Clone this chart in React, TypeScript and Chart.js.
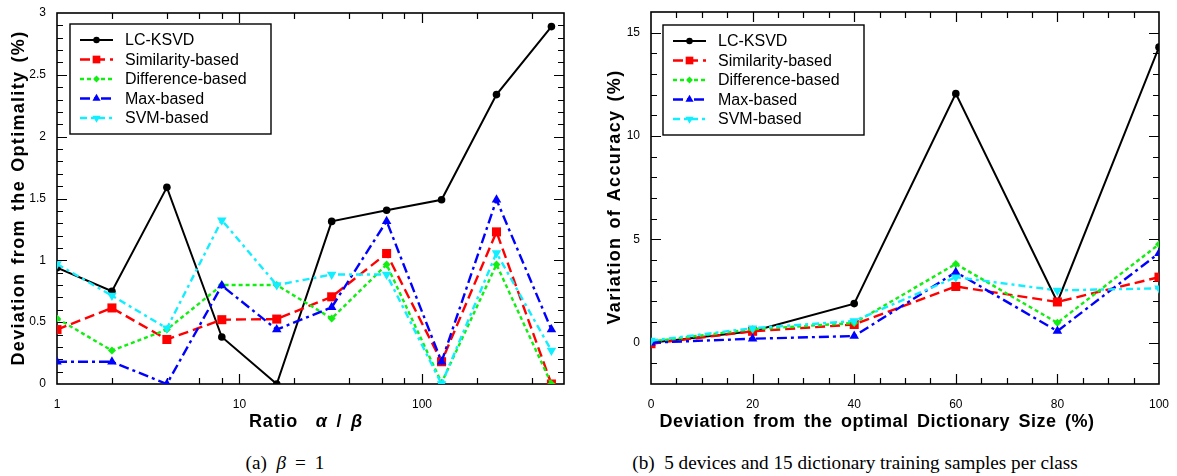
import React, { useEffect, useRef } from "react";
import { Chart, registerables } from "chart.js";

Chart.register(...registerables);

// ---------- data ----------
const seriesNames = ["LC-KSVD", "Similarity-based", "Difference-based", "Max-based", "SVM-based"];

// (a) ratio alpha / beta (log axis)
const ratioX = [1, 2, 4, 8, 16, 32, 64, 128, 256, 512];
const ratioLC = [0.94, 0.75, 1.59, 0.38, 0, 1.315, 1.405, 1.49, 2.34, 2.89];
const ratioSim = [0.44, 0.615, 0.36, 0.52, 0.525, 0.705, 1.055, 0.18, 1.23, 0];
const ratioDiff = [0.53, 0.27, 0.44, 0.8, 0.8, 0.53, 0.966, 0.01, 0.966, 0];
const ratioMax = [0.18, 0.18, 0, 0.796, 0.44, 0.62, 1.317, 0.18, 1.49, 0.44];
const ratioSvm = [0.97, 0.715, 0.45, 1.325, 0.8, 0.885, 0.885, 0, 1.06, 0.27];

// (b) deviation from optimal dictionary size
const sizeX = [0, 20, 40, 60, 80, 100];
const sizeLC = [0, 0.55, 1.89, 12.05, 1.97, 14.3];
const sizeSim = [-0.05, 0.55, 0.88, 2.72, 1.97, 3.17];
const sizeDiff = [0.05, 0.65, 0.95, 3.81, 0.96, 4.76];
const sizeMax = [0, 0.19, 0.32, 3.41, 0.56, 4.33];
const sizeSvm = [0.1, 0.7, 1.05, 3.17, 2.53, 2.63];

// tick labels
const ratioXTicks = [1, 10, 100];
const ratioXMinor = [2, 4, 6, 8, 20, 40, 60, 80, 200, 400];
const ratioYTicks = [0, 0.5, 1, 1.5, 2, 2.5, 3];
const sizeXTicks = [0, 20, 40, 60, 80, 100];
const sizeYTicks = [0, 5, 10, 15];

// ---------- styles ----------
const seriesStyles = [
  { color: "#000000", dash: [] as number[], point: "circle", radius: 3.8, width: 2, rotation: 0 },
  { color: "#ff0000", dash: [10, 5], point: "rect", radius: 6.4, width: 2.4, rotation: 0 },
  { color: "#11ee11", dash: [4, 3], point: "rectRot", radius: 4, width: 2.4, rotation: 0 },
  { color: "#0000ff", dash: [10, 4, 3, 4], point: "triangle", radius: 5.5, width: 2.4, rotation: 0 },
  { color: "#11eeff", dash: [7, 4, 3, 4], point: "triangle", radius: 5.5, width: 2.4, rotation: 180 },
];

const TICK_FONT = { family: "'Liberation Sans', Arial, sans-serif", size: 12 };

function drawMarker(ctx: CanvasRenderingContext2D, style: string, x: number, y: number, r: number, rotation: number) {
  ctx.beginPath();
  if (style === "circle") {
    ctx.arc(x, y, r, 0, Math.PI * 2);
  } else if (style === "rect") {
    const s = Math.SQRT1_2 * r;
    ctx.rect(x - s, y - s, 2 * s, 2 * s);
  } else if (style === "rectRot") {
    ctx.moveTo(x, y - r);
    ctx.lineTo(x + r, y);
    ctx.lineTo(x, y + r);
    ctx.lineTo(x - r, y);
    ctx.closePath();
  } else if (style === "triangle") {
    let rad = (rotation * Math.PI) / 180;
    ctx.moveTo(x + Math.sin(rad) * r, y - Math.cos(rad) * r);
    rad += (2 * Math.PI) / 3;
    ctx.lineTo(x + Math.sin(rad) * r, y - Math.cos(rad) * r);
    rad += (2 * Math.PI) / 3;
    ctx.lineTo(x + Math.sin(rad) * r, y - Math.cos(rad) * r);
    ctx.closePath();
  }
  ctx.fill();
}

const framePlugin = {
  id: "frame",
  beforeDatasetsDraw(chart: any, _args: any, opts: any) {
    const { ctx, chartArea: a, scales } = chart;
    const xs = scales.x;
    const ys = scales.y;
    ctx.save();
    ctx.strokeStyle = "#000";
    ctx.lineWidth = 1.2;
    const major = 10;
    const minor = 6;
    const vx = (v: number, len: number) => {
      const p = Math.round(xs.getPixelForValue(v)) + 0.5;
      if (p <= a.left + 1 || p >= a.right - 1) return;
      ctx.beginPath();
      ctx.moveTo(p, a.bottom);
      ctx.lineTo(p, a.bottom - len);
      ctx.moveTo(p, a.top);
      ctx.lineTo(p, a.top + len);
      ctx.stroke();
    };
    const hy = (v: number, len: number) => {
      const p = Math.round(ys.getPixelForValue(v)) + 0.5;
      if (p <= a.top + 1 || p >= a.bottom - 1) return;
      ctx.beginPath();
      ctx.moveTo(a.left, p);
      ctx.lineTo(a.left + len, p);
      ctx.moveTo(a.right, p);
      ctx.lineTo(a.right - len, p);
      ctx.stroke();
    };
    opts.xMajor.forEach((v: number) => vx(v, major));
    opts.xMinor.forEach((v: number) => vx(v, minor));
    opts.yMajor.forEach((v: number) => hy(v, major));
    if (opts.yMinorStep) {
      const n = Math.round((ys.max - ys.min) / opts.yMinorStep);
      for (let i = 0; i <= n; i++) {
        const v = ys.min + i * opts.yMinorStep;
        if (opts.yMajor.some((m: number) => Math.abs(m - v) < 1e-6)) continue;
        hy(v, minor);
      }
    }
    if (opts.xMinorStep) {
      const n = Math.round((xs.max - xs.min) / opts.xMinorStep);
      for (let i = 0; i <= n; i++) {
        const v = xs.min + i * opts.xMinorStep;
        if (opts.xMajor.some((m: number) => Math.abs(m - v) < 1e-6)) continue;
        vx(v, minor);
      }
    }
    ctx.lineWidth = 1.6;
    ctx.strokeRect(a.left, a.top, a.right - a.left, a.bottom - a.top);
    ctx.restore();
  },
};

const legendBoxPlugin = {
  id: "legendBox",
  afterDraw(chart: any, _args: any, opts: any) {
    const { ctx, chartArea: a } = chart;
    const bx = a.left + opts.dx;
    const by = a.top + opts.dy;
    ctx.save();
    ctx.fillStyle = "#fff";
    ctx.fillRect(bx, by, opts.w, opts.h);
    ctx.strokeStyle = "#000";
    ctx.lineWidth = 1.4;
    ctx.strokeRect(bx, by, opts.w, opts.h);
    ctx.font = "16px 'Liberation Sans', Arial, sans-serif";
    ctx.textBaseline = "middle";
    seriesNames.forEach((name, i) => {
      const st = seriesStyles[i];
      const y = by + 16 + i * 19.5;
      const x0 = bx + 10;
      const x1 = bx + 43;
      ctx.strokeStyle = st.color;
      ctx.lineWidth = st.width;
      ctx.setLineDash(st.dash);
      ctx.beginPath();
      ctx.moveTo(x0, y);
      ctx.lineTo(x1, y);
      ctx.stroke();
      ctx.setLineDash([]);
      ctx.fillStyle = st.color;
      drawMarker(ctx, st.point, (x0 + x1) / 2, y, st.radius * 0.85, st.rotation);
      ctx.fillStyle = "#000";
      ctx.fillText(name, bx + 55, y + 1);
    });
    ctx.restore();
  },
};

function buildDatasets(xs: number[], series: number[][]) {
  return series.map((ys, i) => {
    const st = seriesStyles[i];
    return {
      label: seriesNames[i],
      data: xs.map((x, j) => ({ x, y: ys[j] })),
      borderColor: st.color,
      backgroundColor: st.color,
      borderWidth: st.width,
      borderDash: st.dash,
      pointStyle: st.point,
      pointRadius: st.radius,
      pointRotation: st.rotation,
      pointBorderWidth: 0,
      pointBackgroundColor: st.color,
      tension: 0,
      order: series.length - i,
    };
  });
}

type ChartProps = {
  left: number;
  width: number;
  height: number;
  plotLeft: number;
  plotRight: number;
  plotTop: number;
  plotBottom: number;
  xType: "linear" | "logarithmic";
  xMin: number;
  xMax: number;
  yMin: number;
  yMax: number;
  xTicks: number[];
  yTicks: number[];
  xs: number[];
  series: number[][];
  frame: any;
  legendDx: number;
  legendDy: number;
};

function PlotCanvas(p: ChartProps) {
  const ref = useRef<HTMLCanvasElement | null>(null);
  useEffect(() => {
    if (!ref.current) return;
    const chart = new Chart(ref.current, {
      type: "line",
      data: { datasets: buildDatasets(p.xs, p.series) as any },
      options: {
        responsive: false,
        animation: false,
        devicePixelRatio: 1,
        layout: { padding: { top: p.plotTop, right: p.width - p.plotRight, left: 0, bottom: 0 } },
        plugins: {
          legend: { display: false },
          tooltip: { enabled: false },
          title: { display: false },
          frame: p.frame,
          legendBox: { dx: p.legendDx, dy: p.legendDy, w: 201, h: 110 },
        } as any,
        scales: {
          x: {
            type: p.xType,
            min: p.xMin,
            max: p.xMax,
            grid: { display: false, drawTicks: false },
            border: { display: false },
            ticks: {
              color: "#000",
              font: TICK_FONT,
              padding: 13,
              autoSkip: false,
              maxRotation: 0,
              callback: (v: any) => String(v),
            },
            afterBuildTicks: (s: any) => {
              s.ticks = p.xTicks.map((v) => ({ value: v }));
            },
            afterFit: (s: any) => {
              s.height = p.height - p.plotBottom;
              s.paddingLeft = 0;
              s.paddingRight = 0;
              s.paddingTop = 0;
              s.paddingBottom = 0;
            },
          } as any,
          y: {
            type: "linear",
            min: p.yMin,
            max: p.yMax,
            grid: { display: false, drawTicks: false },
            border: { display: false },
            ticks: {
              color: "#000",
              font: TICK_FONT,
              padding: 11,
              autoSkip: false,
              callback: (v: any) => String(v),
            },
            afterBuildTicks: (s: any) => {
              s.ticks = p.yTicks.map((v) => ({ value: v }));
            },
            afterFit: (s: any) => {
              s.width = p.plotLeft;
              s.paddingLeft = 0;
              s.paddingRight = 0;
              s.paddingTop = 0;
              s.paddingBottom = 0;
            },
          } as any,
        },
      },
      plugins: [framePlugin, legendBoxPlugin],
    });
    return () => chart.destroy();
  }, []);
  return (
    <canvas
      ref={ref}
      width={p.width}
      height={p.height}
      style={{ position: "absolute", left: p.left, top: 0, width: p.width, height: p.height }}
    />
  );
}

const titleFont: React.CSSProperties = {
  fontFamily: "'Liberation Sans', Arial, sans-serif",
  fontWeight: 700,
  fontSize: 18,
  color: "#000",
  whiteSpace: "nowrap",
  position: "absolute",
  textAlign: "center",
  lineHeight: "20px",
};

function HTitle({ cx, cy, children, spacing }: any) {
  return (
    <div
      style={{
        ...titleFont,
        left: cx - 300,
        top: cy - 10,
        width: 600,
        letterSpacing: spacing,
        wordSpacing: 3,
      }}
    >
      {children}
    </div>
  );
}

function VTitle({ cx, cy, children }: any) {
  return (
    <div
      style={{
        ...titleFont,
        left: cx - 250,
        top: cy - 10,
        width: 500,
        letterSpacing: 1.3,
        wordSpacing: 2,
        transform: "rotate(-90deg)",
        transformOrigin: "50% 50%",
      }}
    >
      {children}
    </div>
  );
}

const captionStyle: React.CSSProperties = {
  position: "absolute",
  fontFamily: "'Liberation Serif', 'Times New Roman', serif",
  fontSize: 19.2,
  lineHeight: "22px",
  color: "#000",
  whiteSpace: "nowrap",
  textAlign: "center",
  top: 452,
};

export default function App() {
  return (
    <div
      style={{
        position: "absolute",
        left: 0,
        top: 0,
        width: 1177,
        height: 476,
        background: "#fff",
        overflow: "hidden",
      }}
    >
      <PlotCanvas
        left={0}
        width={590}
        height={440}
        plotLeft={57}
        plotRight={564}
        plotTop={13}
        plotBottom={384}
        xType="logarithmic"
        xMin={1}
        xMax={600}
        yMin={0}
        yMax={3}
        xTicks={ratioXTicks}
        yTicks={ratioYTicks}
        xs={ratioX}
        series={[ratioLC, ratioSim, ratioDiff, ratioMax, ratioSvm]}
        frame={{ xMajor: ratioXTicks, xMinor: ratioXMinor, yMajor: ratioYTicks, yMinorStep: 0.1 }}
        legendDx={13}
        legendDy={11}
      />
      <PlotCanvas
        left={590}
        width={587}
        height={440}
        plotLeft={61}
        plotRight={569}
        plotTop={12}
        plotBottom={384}
        xType="linear"
        xMin={0}
        xMax={100}
        yMin={-2}
        yMax={16}
        xTicks={sizeXTicks}
        yTicks={sizeYTicks}
        xs={sizeX}
        series={[sizeLC, sizeSim, sizeDiff, sizeMax, sizeSvm]}
        frame={{ xMajor: sizeXTicks, xMinor: [], xMinorStep: 5, yMajor: sizeYTicks, yMinorStep: 1 }}
        legendDx={12}
        legendDy={13}
      />
      <VTitle cx={18} cy={198}>Deviation from the Optimality (%)</VTitle>
      <VTitle cx={614} cy={197}>Variation of Accuracy (%)</VTitle>
      <HTitle cx={306} cy={421} spacing={0.8}>
        Ratio&nbsp; <i>α</i> / <i>β</i>
      </HTitle>
      <HTitle cx={877} cy={421} spacing={0.5}>
        Deviation from the optimal Dictionary Size (%)
      </HTitle>
      <div style={{ ...captionStyle, left: 185, width: 200 }}>
        (a)&nbsp;&nbsp;<i>β</i>
        <span style={{ margin: "0 9px" }}>=</span>1
      </div>
      <div style={{ ...captionStyle, left: 555, width: 600 }}>
        (b)&nbsp; 5 devices and 15 dictionary training samples per class
      </div>
    </div>
  );
}
